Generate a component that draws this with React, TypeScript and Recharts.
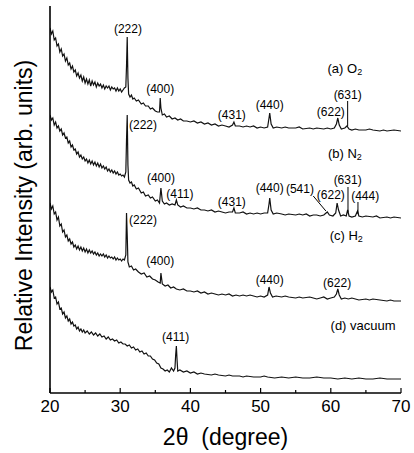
import { LineChart, Line, XAxis, YAxis, ReferenceDot, ReferenceLine } from "recharts";

type Pt = [number, number];

// 2θ (degree), intensity (arb. units)
const o2: Pt[] = [
  [20.0, 365], [20.2, 359], [20.4, 362], [20.6, 353], [20.8, 355], [21.0, 347], [21.2, 349], [21.4, 341],
  [21.6, 344], [21.8, 337], [22.0, 339], [22.2, 332], [22.4, 335], [22.6, 328], [22.8, 330], [23.0, 324],
  [23.2, 327], [23.4, 321], [23.6, 323], [23.8, 317], [24.0, 320], [24.2, 315], [24.4, 318], [24.6, 312],
  [24.8, 316], [25.0, 310], [25.2, 314], [25.4, 309], [25.6, 313], [25.8, 307], [26.0, 312], [26.2, 308],
  [26.4, 311], [26.6, 306], [26.8, 310], [27.0, 307], [27.2, 309], [27.4, 305], [27.6, 308], [27.8, 304],
  [28.0, 307], [28.2, 305], [28.4, 307], [28.6, 303], [28.8, 306], [29.0, 304], [29.2, 305], [29.4, 302],
  [29.6, 305], [29.8, 302], [30.0, 304], [30.2, 301], [30.4, 303], [30.6, 305], [30.8, 306], [30.9, 327],
  [31.0, 356], [31.1, 315], [31.2, 299], [31.4, 296], [31.6, 298], [31.8, 294], [32.0, 295], [32.3, 292],
  [32.6, 293], [33.0, 289], [33.3, 290], [33.6, 287], [34.0, 287], [34.3, 284], [34.6, 285], [35.0, 282],
  [35.3, 281], [35.6, 281], [35.7, 295], [35.8, 285], [36.0, 278], [36.3, 279], [36.6, 276], [37.0, 277],
  [37.4, 274], [37.8, 275], [38.2, 273], [38.6, 274], [39.0, 272], [39.5, 272], [40.0, 271], [40.5, 272],
  [41.0, 270], [41.5, 271], [42.0, 269], [42.5, 270], [43.0, 268], [43.5, 269], [44.0, 267], [44.5, 268],
  [45.0, 267], [45.5, 266], [46.0, 268], [46.2, 271], [46.4, 267], [47.0, 267], [47.5, 266], [48.0, 267],
  [48.5, 266], [49.0, 267], [49.5, 265], [50.0, 266], [50.5, 265], [51.0, 266], [51.2, 275], [51.3, 280],
  [51.5, 269], [51.8, 265], [52.3, 266], [53.0, 265], [53.5, 266], [54.0, 265], [55.0, 265], [55.5, 266],
  [56.0, 264], [57.0, 265], [57.5, 264], [58.0, 265], [59.0, 264], [59.5, 265], [60.0, 264], [60.5, 265],
  [60.8, 269], [61.0, 275], [61.2, 268], [61.5, 264], [62.0, 265], [62.3, 267], [62.6, 264], [63.0, 263],
  [63.5, 264], [64.0, 263], [65.0, 263], [65.5, 264], [66.0, 263], [67.0, 262], [67.5, 263], [68.0, 262],
  [69.0, 263], [70.0, 262],
];

const n2: Pt[] = [
  [20.0, 278], [20.2, 273], [20.4, 275], [20.6, 268], [20.8, 271], [21.0, 265], [21.2, 267], [21.4, 262],
  [21.6, 264], [21.8, 258], [22.0, 260], [22.2, 255], [22.4, 256], [22.6, 250], [22.8, 252], [23.0, 246],
  [23.2, 248], [23.4, 243], [23.6, 244], [23.8, 239], [24.0, 241], [24.2, 236], [24.4, 238], [24.6, 234],
  [24.8, 236], [25.0, 232], [25.2, 234], [25.4, 230], [25.6, 233], [25.8, 229], [26.0, 232], [26.2, 228],
  [26.4, 231], [26.6, 227], [26.8, 230], [27.0, 226], [27.2, 229], [27.4, 225], [27.6, 227], [27.8, 224],
  [28.0, 226], [28.2, 222], [28.4, 224], [28.6, 221], [28.8, 223], [29.0, 220], [29.2, 222], [29.4, 219],
  [29.6, 221], [29.8, 218], [30.0, 219], [30.2, 217], [30.4, 218], [30.6, 216], [30.8, 221], [30.9, 253],
  [31.0, 278], [31.1, 228], [31.2, 213], [31.4, 210], [31.6, 211], [31.8, 207], [32.0, 208], [32.3, 204],
  [32.6, 205], [33.0, 200], [33.3, 201], [33.6, 197], [34.0, 198], [34.3, 195], [34.6, 196], [35.0, 192],
  [35.3, 193], [35.6, 190], [35.8, 205], [36.0, 192], [36.3, 189], [36.6, 190], [37.0, 188], [37.4, 189],
  [37.8, 188], [38.0, 193], [38.2, 188], [38.6, 186], [39.0, 187], [39.5, 185], [40.0, 185], [40.5, 184],
  [41.0, 185], [41.5, 183], [42.0, 183], [42.5, 182], [43.0, 183], [43.5, 181], [44.0, 182], [44.5, 181],
  [45.0, 180], [45.5, 181], [46.0, 181], [46.2, 185], [46.4, 180], [47.0, 180], [47.5, 181], [48.0, 179],
  [48.5, 180], [49.0, 179], [49.5, 180], [50.0, 179], [50.5, 180], [51.0, 180], [51.2, 189], [51.3, 195],
  [51.5, 183], [51.8, 179], [52.3, 180], [53.0, 179], [53.5, 178], [54.0, 179], [55.0, 178], [55.5, 179],
  [56.0, 178], [56.5, 179], [57.0, 177], [57.5, 178], [58.0, 178], [58.5, 177], [59.0, 178], [59.5, 181],
  [59.8, 178], [60.3, 177], [60.7, 180], [60.9, 190], [61.1, 183], [61.4, 177], [61.8, 178], [62.2, 177],
  [62.4, 183], [62.6, 177], [63.0, 176], [63.5, 177], [63.8, 182], [64.0, 177], [64.5, 176], [65.0, 177],
  [66.0, 176], [66.5, 177], [67.0, 175], [68.0, 176], [68.5, 175], [69.0, 176], [70.0, 175],
];

const h2: Pt[] = [
  [20.0, 190], [20.2, 184], [20.4, 187], [20.6, 179], [20.8, 181], [21.0, 173], [21.2, 176], [21.4, 167],
  [21.6, 169], [21.8, 161], [22.0, 163], [22.2, 156], [22.4, 158], [22.6, 152], [22.8, 154], [23.0, 149],
  [23.2, 151], [23.4, 146], [23.6, 148], [23.8, 144], [24.0, 147], [24.2, 143], [24.4, 146], [24.6, 142],
  [24.8, 145], [25.0, 141], [25.2, 144], [25.4, 140], [25.6, 143], [25.8, 140], [26.0, 142], [26.2, 139],
  [26.4, 141], [26.6, 138], [26.8, 140], [27.0, 137], [27.2, 139], [27.4, 137], [27.6, 139], [27.8, 136],
  [28.0, 138], [28.2, 135], [28.4, 137], [28.6, 135], [28.8, 136], [29.0, 134], [29.2, 136], [29.4, 133],
  [29.6, 135], [29.8, 133], [30.0, 134], [30.2, 132], [30.4, 134], [30.6, 133], [30.8, 138], [30.9, 180],
  [31.0, 158], [31.1, 131], [31.3, 126], [31.6, 127], [31.9, 123], [32.2, 124], [32.6, 121], [33.0, 119],
  [33.4, 120], [33.8, 116], [34.2, 117], [34.6, 114], [35.0, 113], [35.4, 111], [35.7, 110], [35.8, 120],
  [36.0, 109], [36.4, 107], [36.8, 108], [37.2, 105], [37.6, 106], [38.0, 104], [38.5, 103], [39.0, 104],
  [39.5, 102], [40.0, 102], [40.5, 101], [41.0, 102], [41.5, 100], [42.0, 101], [42.5, 99], [43.0, 100],
  [43.5, 99], [44.0, 98], [44.5, 99], [45.0, 98], [45.5, 99], [46.0, 97], [46.5, 98], [47.0, 97],
  [47.5, 98], [48.0, 97], [48.5, 98], [49.0, 97], [49.5, 96], [50.0, 97], [50.5, 96], [51.0, 98],
  [51.2, 106], [51.4, 100], [51.7, 96], [52.2, 97], [53.0, 96], [53.5, 97], [54.0, 96], [55.0, 95],
  [55.5, 96], [56.0, 95], [57.0, 96], [57.5, 95], [58.0, 94], [58.5, 95], [59.0, 96], [59.5, 94],
  [60.0, 95], [60.5, 96], [60.8, 99], [61.0, 104], [61.2, 98], [61.5, 94], [62.0, 95], [62.5, 94],
  [63.0, 95], [63.5, 94], [64.0, 93], [65.0, 94], [65.5, 93], [66.0, 94], [67.0, 93], [68.0, 92],
  [68.5, 93], [69.0, 92], [70.0, 92],
];

const vacuum: Pt[] = [
  [20.0, 106], [20.2, 101], [20.4, 103], [20.6, 95], [20.8, 96], [21.0, 89], [21.2, 91], [21.4, 84],
  [21.6, 85], [21.8, 79], [22.0, 81], [22.2, 75], [22.4, 77], [22.6, 72], [22.8, 74], [23.0, 69],
  [23.2, 71], [23.4, 67], [23.6, 68], [23.8, 64], [24.0, 66], [24.2, 62], [24.4, 64], [24.6, 61],
  [24.8, 63], [25.0, 60], [25.3, 62], [25.6, 59], [25.9, 61], [26.2, 58], [26.5, 60], [26.8, 57],
  [27.1, 59], [27.4, 56], [27.7, 57], [28.0, 54], [28.3, 56], [28.6, 53], [28.9, 54], [29.2, 52],
  [29.5, 53], [29.8, 50], [30.1, 51], [30.4, 49], [30.7, 49], [31.0, 47], [31.3, 48], [31.6, 45],
  [31.9, 46], [32.2, 43], [32.5, 44], [32.8, 41], [33.1, 42], [33.4, 39], [33.7, 40], [34.0, 37],
  [34.3, 37], [34.6, 34], [34.9, 33], [35.2, 30], [35.5, 29], [35.8, 25], [36.1, 24], [36.4, 22],
  [36.7, 23], [37.0, 21], [37.3, 25], [37.6, 22], [37.8, 25], [37.9, 38], [38.0, 47], [38.1, 33],
  [38.2, 22], [38.5, 23], [39.0, 21], [39.5, 22], [40.0, 20], [40.5, 21], [41.0, 19], [41.5, 20],
  [42.0, 19], [43.0, 18], [43.5, 19], [44.0, 18], [45.0, 17], [45.5, 18], [46.0, 17], [47.0, 17],
  [47.5, 16], [48.0, 17], [49.0, 16], [50.0, 16], [50.5, 17], [51.0, 16], [52.0, 15], [53.0, 16],
  [54.0, 15], [55.0, 16], [56.0, 15], [57.0, 15], [58.0, 16], [59.0, 15], [60.0, 15], [61.0, 14],
  [62.0, 15], [63.0, 14], [64.0, 15], [65.0, 14], [66.0, 14], [67.0, 15], [68.0, 14], [69.0, 14],
  [70.0, 14],
];

const xTicks = [20, 25, 30, 35, 40, 45, 50, 55, 60, 65, 70];

// peak index labels [text, 2θ, intensity]
const peakLabels: [string, number, number][] = [
  ["(222)", 31.1, 364], ["(400)", 35.7, 304], ["(431)", 45.9, 278], ["(440)", 51.3, 288],
  ["(622)", 60.0, 281], ["(631)", 62.4, 298],
  ["(222)", 33.25, 268], ["(400)", 35.8, 215], ["(411)", 38.5, 199], ["(431)", 45.9, 191],
  ["(440)", 51.3, 205], ["(541)", 55.6, 204], ["(622)", 60.0, 198], ["(631)", 62.4, 213], ["(444)", 64.9, 197],
  ["(222)", 33.25, 173], ["(400)", 35.7, 132], ["(440)", 51.3, 113], ["(622)", 60.9, 110],
  ["(411)", 37.9, 56],
];

// sample names [prefix, subscript, 2θ, intensity]
const sampleLabels: [string, string, number, number][] = [
  ["(a) O", "2", 62.0, 325],
  ["(b) N", "2", 62.0, 240],
  ["(c) H", "2", 62.2, 158],
  ["(d) vacuum", "", 64.6, 68],
];

// pointer lines [x1, y1, x2, y2]
const pointers: [number, number, number, number][] = [
  [62.4, 292, 62.4, 267],
  [57.5, 197, 59.3, 182],
  [62.45, 206, 62.45, 181],
  [63.87, 191, 63.87, 179],
];

const toRows = (pts: Pt[]) => pts.map(([x, y]) => ({ x, y }));

const font = "'Liberation Sans', Arial, sans-serif";

const BottomTick = (props: any) => {
  const { x, y, payload } = props;
  const major = payload.value % 10 === 0;
  return (
    <g>
      <line x1={x} x2={x} y1={y} y2={y - (major ? 5 : 3)} stroke="#000" strokeWidth={1.2} />
      {major && (
        <text x={x} y={y + 13} textAnchor="middle" dominantBaseline="central" fontSize={17} fontFamily={font} fill="#000">
          {payload.value}
        </text>
      )}
    </g>
  );
};

const TopTick = (props: any) => {
  const { x, y, payload } = props;
  const major = payload.value % 10 === 0;
  return <line x1={x} x2={x} y1={y} y2={y + (major ? 5 : 3)} stroke="#000" strokeWidth={1.2} />;
};

const seriesList = [o2, n2, h2, vacuum];

export default function App() {
  return (
    <div style={{ position: "absolute", left: 0, top: 0, background: "#fff" }}>
      <LineChart width={414} height={453} margin={{ top: 6, right: 13, bottom: 30, left: 0 }}>
        <XAxis
          dataKey="x"
          type="number"
          domain={[20, 70]}
          ticks={xTicks}
          allowDataOverflow
          height={30}
          tickSize={0}
          tickMargin={0}
          tickLine={false}
          axisLine={{ stroke: "#000", strokeWidth: 1.6 }}
          tick={<BottomTick />}
          label={{
            content: (p: any) => (
              <text
                x={p.viewBox.x + p.viewBox.width / 2}
                y={437}
                textAnchor="middle"
                dominantBaseline="central"
                fontSize={23}
                fontFamily={font}
                fill="#000"
              >
                2θ{"\u00a0"} (degree)
              </text>
            ),
          }}
        />
        <XAxis
          xAxisId="top"
          orientation="top"
          dataKey="x"
          type="number"
          domain={[20, 70]}
          ticks={xTicks}
          allowDataOverflow
          height={0}
          tickSize={0}
          tickMargin={0}
          tickLine={false}
          axisLine={{ stroke: "#000", strokeWidth: 1.6 }}
          tick={<TopTick />}
        />
        <YAxis
          type="number"
          domain={[0, 387]}
          allowDataOverflow
          width={50}
          tick={false}
          tickLine={false}
          axisLine={{ stroke: "#000", strokeWidth: 1.6 }}
          label={{
            content: (p: any) => {
              const cx = 24;
              const cy = p.viewBox.y + p.viewBox.height / 2 + 6;
              return (
                <text
                  x={cx}
                  y={cy}
                  transform={`rotate(-90, ${cx}, ${cy})`}
                  textAnchor="middle"
                  dominantBaseline="central"
                  fontSize={23}
                  fontFamily={font}
                  fill="#000"
                >
                  Relative Intensity (arb. units)
                </text>
              );
            },
          }}
        />
        <YAxis
          yAxisId="right"
          orientation="right"
          type="number"
          domain={[0, 387]}
          width={0}
          tick={false}
          tickLine={false}
          axisLine={{ stroke: "#000", strokeWidth: 1.6 }}
        />
        {seriesList.map((s, i) => (
          <Line
            key={i}
            data={toRows(s)}
            dataKey="y"
            type="linear"
            stroke="#111"
            strokeWidth={1.2}
            dot={false}
            activeDot={false}
            isAnimationActive={false}
          />
        ))}
        {pointers.map(([x1, y1, x2, y2], i) => (
          <ReferenceLine
            key={`p${i}`}
            segment={[{ x: x1, y: y1 }, { x: x2, y: y2 }]}
            stroke="#000"
            strokeWidth={1}
          />
        ))}
        {peakLabels.map(([text, x, y], i) => (
          <ReferenceDot
            key={`l${i}`}
            x={x}
            y={y}
            r={1}
            fill="none"
            stroke="none"
            label={{
              content: (p: any) => (
                <text
                  x={p.viewBox.x + p.viewBox.width / 2}
                  y={p.viewBox.y + p.viewBox.height / 2}
                  textAnchor="middle"
                  dominantBaseline="central"
                  fontSize={12}
                  fontFamily={font}
                  fill="#000"
                >
                  {text}
                </text>
              ),
            }}
          />
        ))}
        {sampleLabels.map(([text, sub, x, y], i) => (
          <ReferenceDot
            key={`s${i}`}
            x={x}
            y={y}
            r={1}
            fill="none"
            stroke="none"
            label={{
              content: (p: any) => (
                <text
                  x={p.viewBox.x + p.viewBox.width / 2}
                  y={p.viewBox.y + p.viewBox.height / 2}
                  textAnchor="middle"
                  dominantBaseline="central"
                  fontSize={13}
                  fontFamily={font}
                  fill="#000"
                >
                  {text}
                  {sub && (
                    <tspan fontSize={9} dy={4}>
                      {sub}
                    </tspan>
                  )}
                </text>
              ),
            }}
          />
        ))}
      </LineChart>
    </div>
  );
}
